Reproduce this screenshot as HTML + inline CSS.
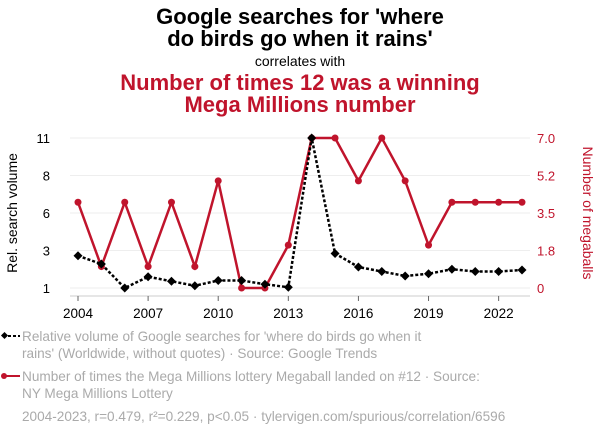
<!DOCTYPE html>
<html><head><meta charset="utf-8"><style>
body{margin:0;background:#fff;width:600px;height:436px;overflow:hidden;font-family:"Liberation Sans",sans-serif}
svg{display:block}
</style></head><body>
<svg id="c" width="600" height="436">
<text x="300" y="24" text-anchor="middle" font-size="22" font-weight="bold" fill="#000">Google searches for 'where</text>
<text x="300" y="46" text-anchor="middle" font-size="22" font-weight="bold" fill="#000">do birds go when it rains'</text>
<text x="300" y="66" text-anchor="middle" font-size="14" fill="#000">correlates with</text>
<text x="300" y="90" text-anchor="middle" font-size="22" font-weight="bold" fill="#c0142c">Number of times 12 was a winning</text>
<text x="300" y="112" text-anchor="middle" font-size="22" font-weight="bold" fill="#c0142c">Mega Millions number</text>
<text transform="translate(17,213) rotate(-90)" text-anchor="middle" font-size="14" fill="#000">Rel. search volume</text>
<text transform="translate(583,213) rotate(90)" text-anchor="middle" font-size="14" fill="#c0142c">Number of megaballs</text>
<g id="grid"></g><g id="axes"></g><g id="marks"></g>
<g font-size="13.6" fill="#aaa">
<line x1="3" y1="336" x2="20" y2="336" stroke="#000" stroke-width="2" stroke-dasharray="3,2"/>
<rect x="2" y="333" width="5" height="5" transform="rotate(45 4.5 335.5)" fill="#000"/>
<text x="22" y="341">Relative volume of Google searches for 'where do birds go when it</text>
<text x="22" y="358">rains' (Worldwide, without quotes) · Source: Google Trends</text>
<line x1="3" y1="376" x2="20" y2="376" stroke="#c0142c" stroke-width="2"/>
<circle cx="4" cy="376" r="3" fill="#c0142c"/>
<text x="22" y="381">Number of times the Mega Millions lottery Megaball landed on #12 · Source:</text>
<text x="22" y="398">NY Mega Millions Lottery</text>
<text x="22" y="421">2004-2023, r=0.479, r²=0.229, p&lt;0.05 · tylervigen.com/spurious/correlation/6596</text>
</g>
</svg>
<script>
const years=[2004,2005,2006,2007,2008,2009,2010,2011,2012,2013,2014,2015,2016,2017,2018,2019,2020,2021,2022,2023];
const searchVolume=[3.15,2.6,1,1.75,1.45,1.15,1.5,1.5,1.25,1.05,11,3.3,2.4,2.1,1.8,1.95,2.25,2.1,2.1,2.2];
const megaballs=[4,1,4,1,4,1,5,0,0,2,7,7,5,7,5,2,4,4,4,4];
const leftTicks=[1,3.5,6,8.5,11];
const leftTickLabels=["1","3","6","8","11"];
const rightTicks=[0,1.75,3.5,5.25,7];
const rightTickLabels=["0","1.8","3.5","5.2","7.0"];
const xTicks=[2004,2007,2010,2013,2016,2019,2022];
const NS="http://www.w3.org/2000/svg";
const X0=78,X1=522,YT=138,YB=288;
const x=v=>X0+(v-2004)/(2023-2004)*(X1-X0);
const yL=v=>YB-(v-1)/10*(YB-YT);
const yR=v=>YB-v/7*(YB-YT);
function mk(p,t,a){const e=document.createElementNS(NS,t);for(const k in a)e.setAttribute(k,a[k]);p.appendChild(e);return e;}
const grid=document.getElementById('grid'),axes=document.getElementById('axes'),marks=document.getElementById('marks');
leftTicks.forEach((t,i)=>{
 const g=mk(grid,'line',{x1:70,x2:530,y1:yL(t),y2:yL(t),stroke:'#eee','stroke-width':1});
 
 
 const l=mk(axes,'text',{x:50,y:yL(t)+5,'text-anchor':'end','font-size':13,fill:'#000'});
 l.textContent=leftTickLabels[i];
 
 
});
rightTicks.forEach((t,i)=>{
 const l=mk(axes,'text',{x:537,y:yR(t)+5,'font-size':13,fill:'#c0142c'});
 l.textContent=rightTickLabels[i];
 
 
});
const ax=mk(axes,'line',{x1:70,x2:530,y1:296,y2:296,stroke:'#ccc','stroke-width':1});


xTicks.forEach(t=>{
 mk(axes,'line',{x1:x(t),x2:x(t),y1:296,y2:301,stroke:'#666','stroke-width':1});
 const l=mk(axes,'text',{x:x(t),y:318,'text-anchor':'middle','font-size':13.5,fill:'#000'});
 l.textContent=t;
 
 
});
const rl=mk(marks,'polyline',{points:years.map((yr,i)=>x(yr)+','+yR(megaballs[i])).join(' '),fill:'none',stroke:'#c0142c','stroke-width':2.5});


years.forEach((yr,i)=>{
 const c=mk(marks,'circle',{cx:x(yr),cy:yR(megaballs[i]),r:3.5,fill:'#c0142c'});
 
 
});
const bl=mk(marks,'polyline',{points:years.map((yr,i)=>x(yr)+','+yL(searchVolume[i])).join(' '),fill:'none',stroke:'#000','stroke-width':2.5,'stroke-dasharray':'3,2'});


years.forEach((yr,i)=>{
 const cx=x(yr),cy=yL(searchVolume[i]);
 const d=mk(marks,'polygon',{points:`${cx},${cy-4.5} ${cx+4.5},${cy} ${cx},${cy+4.5} ${cx-4.5},${cy}`,fill:'#000'});
 
 
});
</script>
</body></html>
